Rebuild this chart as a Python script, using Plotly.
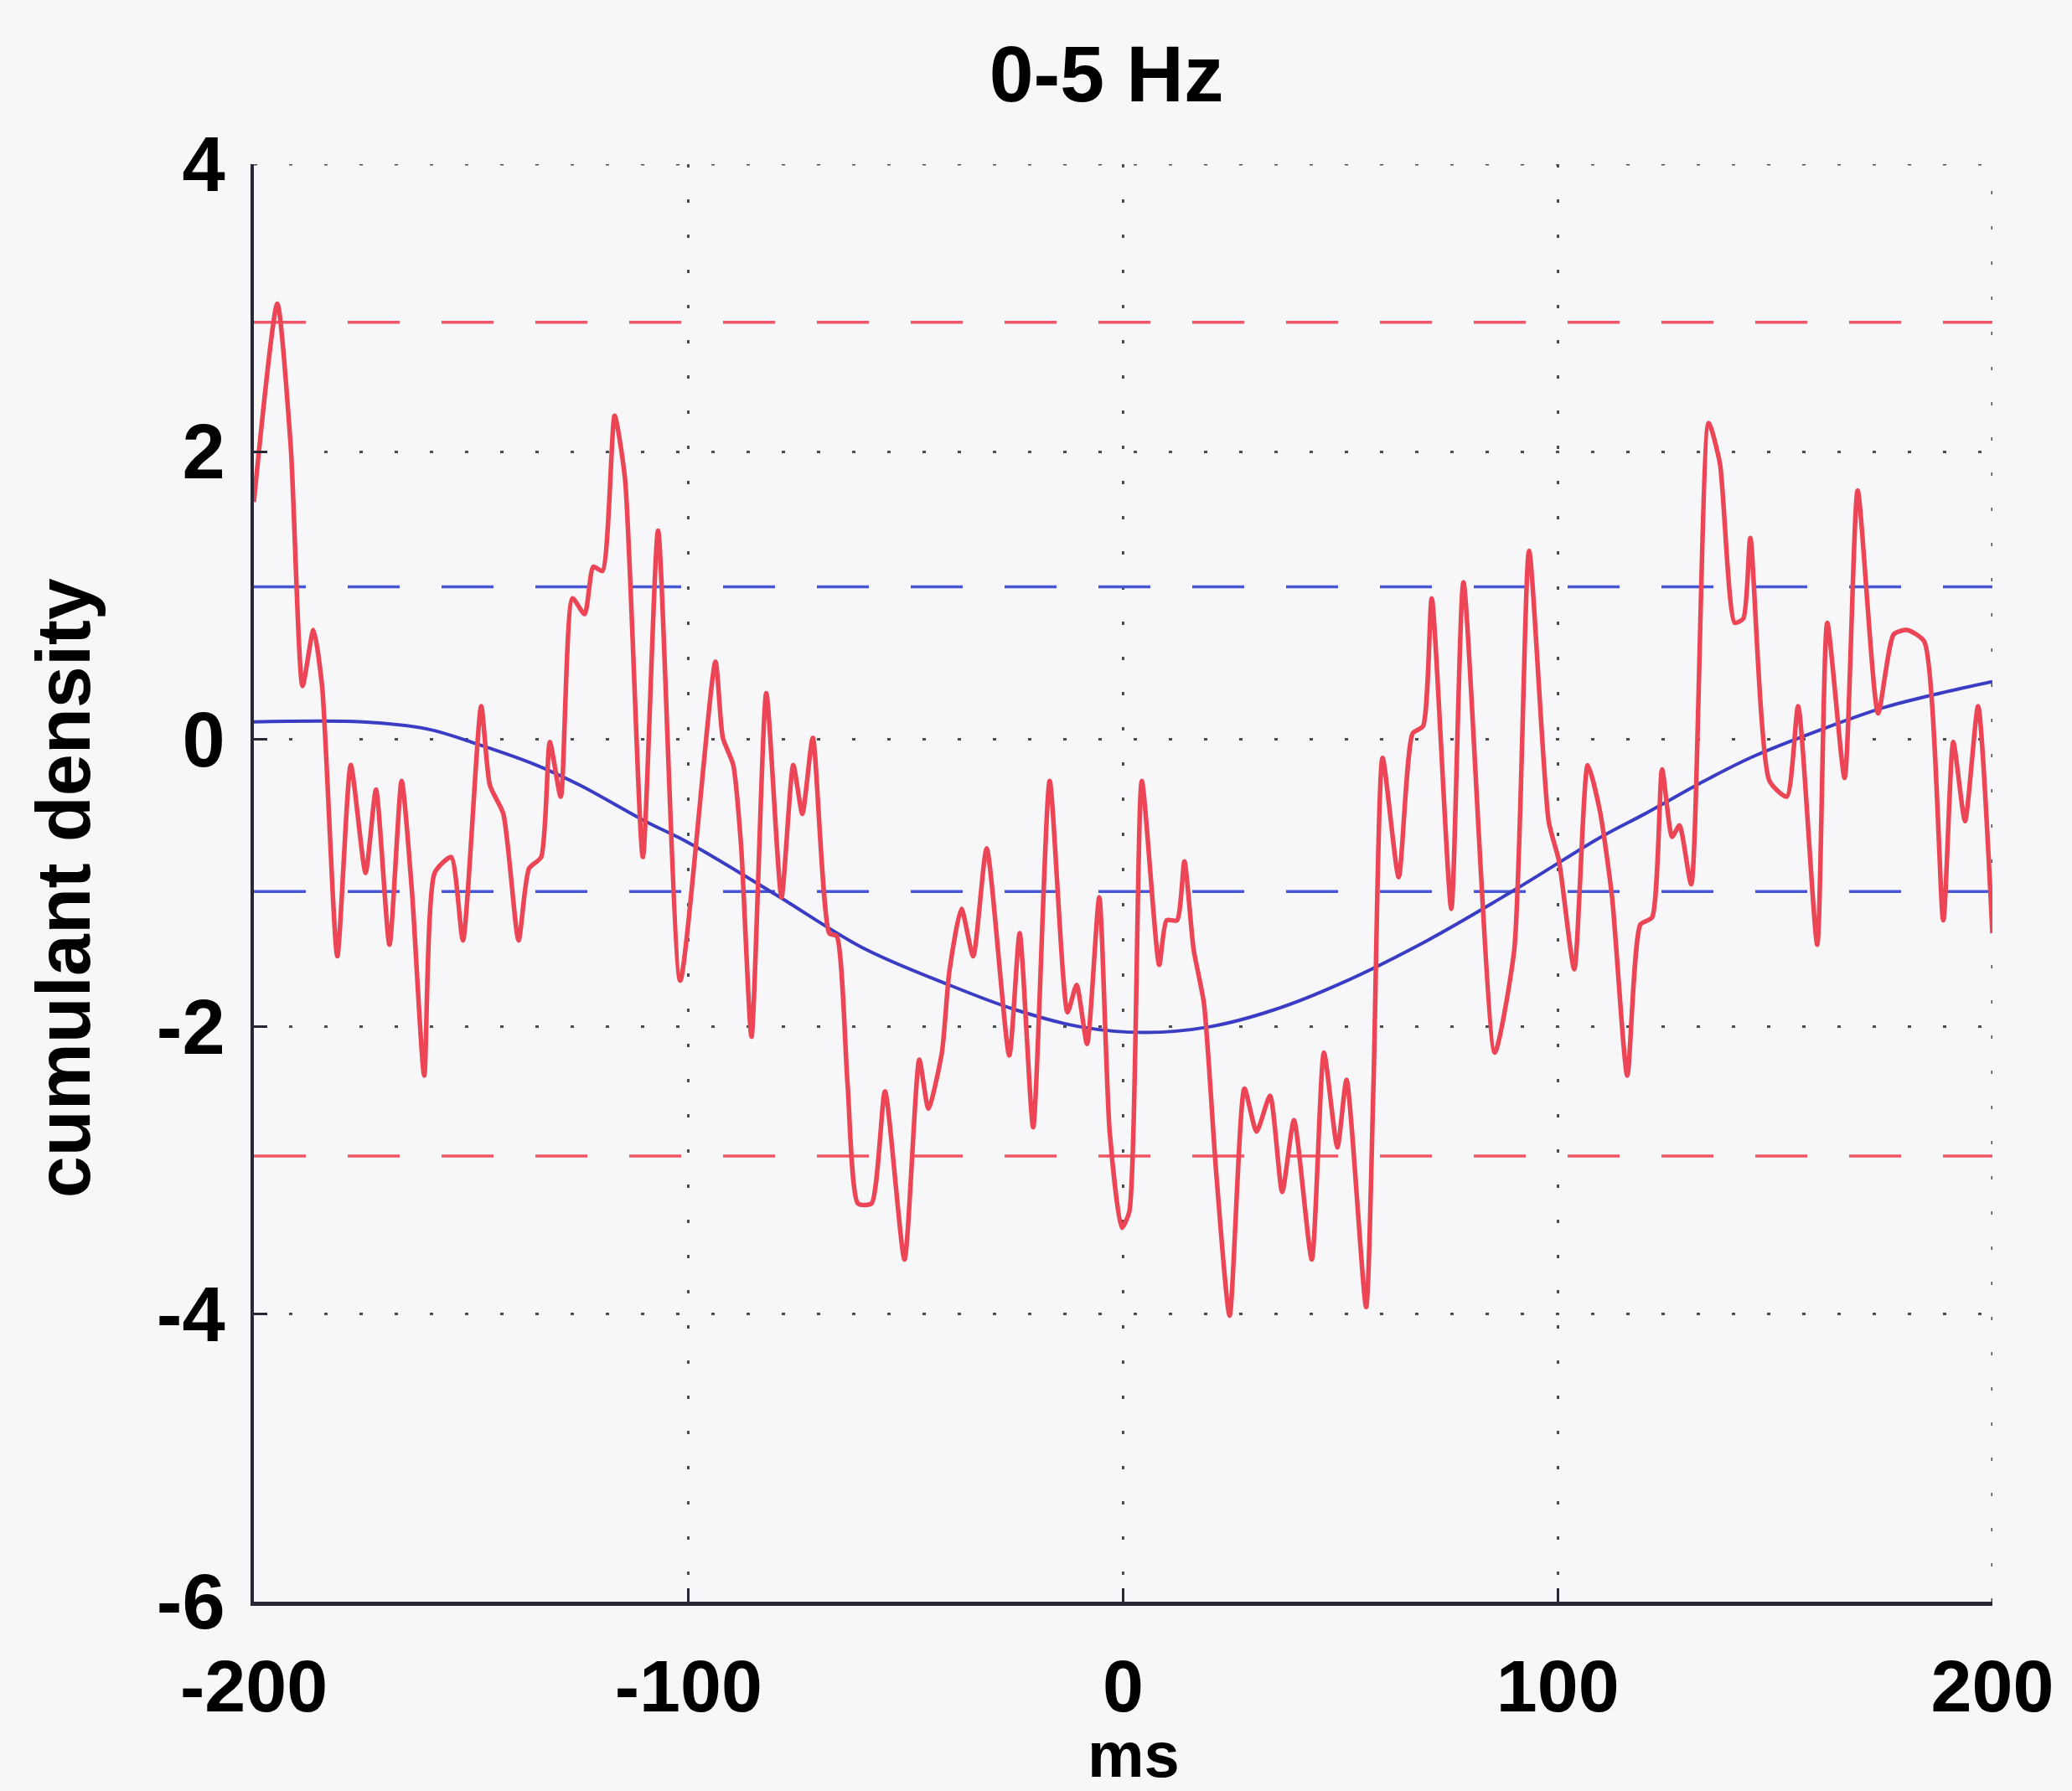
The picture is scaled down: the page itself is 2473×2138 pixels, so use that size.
import plotly.graph_objects as go

# ---- data ----
red_t = [-200, -194.6, -191.5, -188.8, -186.3, -184.3, -180.8, -177.7, -174.3, -171.9,
         -168.8, -166.0, -163.6, -160.8, -158.4, -154.6, -151.9, -147.7, -145.7, -142.6,
         -139.1, -136.7, -133.9, -131.9, -129.4, -126.7, -123.9, -121.9, -119.8, -117.0,
         -114.6, -110.5, -107.0, -101.9, -93.8, -92.1, -89.7, -87.9, -85.5, -82.1,
         -78.6, -75.9, -73.8, -71.4, -67.6, -65.9, -63.4, -61.0, -57.9, -54.8,
         -50.3, -46.9, -44.8, -41.7, -40.0, -37.2, -34.5, -31.4, -26.2, -23.8,
         -20.7, -16.9, -12.8, -10.7, -8.3, -5.5, -3.1, -0.3, 1.4, 4.3,
         8.3, 10.0, 12.4, 14.1, 16.2, 18.6, 21.4, 24.5, 27.9, 30.7,
         33.8, 36.6, 39.3, 43.4, 46.2, 49.3, 51.4, 55.9, 57.6, 59.7,
         63.4, 66.6, 69.0, 71.0, 75.5, 78.3, 85.5, 90.0, 93.4, 97.9,
         100.3, 103.8, 106.9, 109.7, 112.5, 116.0, 119.0, 121.7, 124.0, 126.3,
         128.0, 130.7, 134.7, 137.3, 140.7, 142.7, 144.3, 148.7, 152.7, 155.3,
         159.7, 162.0, 166.0, 169.0, 173.7, 177.3, 180.3, 184.3, 188.7, 191.0,
         193.7, 196.7, 200]
red_v = [1.65, 3.03, 2.03, 0.37, 0.76, 0.37, -1.51, -0.18, -0.93, -0.35,
         -1.43, -0.29, -1.07, -2.34, -0.93, -0.82, -1.40, 0.23, -0.32, -0.52,
         -1.40, -0.90, -0.82, -0.02, -0.40, 0.98, 0.87, 1.20, 1.17, 2.25,
         1.81, -0.82, 1.45, -1.68, 0.54, 0.01, -0.18, -0.74, -2.07, 0.32,
         -1.10, -0.18, -0.52, 0.01, -1.35, -1.37, -2.40, -3.23, -3.23, -2.45,
         -3.62, -2.23, -2.57, -2.18, -1.62, -1.18, -1.51, -0.76, -2.20, -1.35,
         -2.70, -0.29, -1.90, -1.71, -2.12, -1.10, -2.73, -3.40, -3.29, -0.29,
         -1.57, -1.26, -1.26, -0.85, -1.46, -1.84, -3.01, -4.01, -2.43, -2.73,
         -2.48, -3.15, -2.65, -3.62, -2.18, -2.84, -2.37, -3.95, -2.40, -0.13,
         -0.96, 0.04, 0.09, 0.98, -1.18, 1.09, -2.18, -1.46, 1.31, -0.57,
         -0.85, -1.60, -0.18, -0.50, -1.10, -2.34, -1.29, -1.24, -0.21, -0.68,
         -0.60, -1.01, 2.20, 1.92, 0.81, 0.84, 1.40, -0.29, -0.40, 0.23,
         -1.43, 0.81, -0.27, 1.73, 0.18, 0.73, 0.76, 0.68, -1.26, -0.02,
         -0.57, 0.23, -1.35]

blue_t = [-200, -175, -160, -150, -135, -125, -110, -100, -80, -60, -40, -25, -10, 5,
          20, 35, 50, 70, 90, 110, 120, 135, 145, 160, 175, 188, 200]
blue_v = [0.12, 0.12, 0.07, -0.02, -0.18, -0.32, -0.57, -0.72, -1.08, -1.45, -1.71, -1.88,
          -2.00, -2.04, -2.00, -1.88, -1.70, -1.40, -1.05, -0.68, -0.52, -0.27, -0.12,
          0.06, 0.22, 0.32, 0.40]

limit_x = [-200, 200]
red_limit = 2.9
blue_limit = 1.06

x_range = [-200, 200]
y_range = [-6, 4]
x_ticks = [-200, -100, 0, 100, 200]
x_ticktext = ["-200", "-100", "0", "100", "200"]
y_ticks = [-6, -4, -2, 0, 2, 4]
y_ticktext = ["-6", "-4", "-2", "0", "2", "4"]

title_text = "0-5 Hz"
x_label = "ms"
y_label = "cumulant density"

# ---- styling ----
RED = "#ec4656"
RED_DASH = "#ef5563"
BLUE = "#3a3cc4"
BLUE_DASH = "#4656d4"
GRID = "#4a4a52"
AXIS = "#2a2636"
FAMILY = "Liberation Sans, Arial, sans-serif"
GRID_DASH = "4px,38px"

fig = go.Figure()

for val, col in [(red_limit, RED_DASH), (-red_limit, RED_DASH), (blue_limit, BLUE_DASH), (-blue_limit, BLUE_DASH)]:
    fig.add_trace(go.Scatter(x=limit_x, y=[val, val], mode="lines",
                             line=dict(color=col, width=3.5, dash="62px,50px"),
                             hoverinfo="skip", showlegend=False))

fig.add_trace(go.Scatter(x=blue_t, y=blue_v, mode="lines",
                         line=dict(color=BLUE, width=4, shape="spline", smoothing=1.0),
                         showlegend=False))
fig.add_trace(go.Scatter(x=red_t, y=red_v, mode="lines",
                         line=dict(color=RED, width=5.5, shape="spline", smoothing=0.6),
                         showlegend=False))

# top and right grid lines (at the range edges)
fig.add_shape(type="line", xref="x", yref="y", x0=x_range[0], x1=x_range[1], y0=y_range[1], y1=y_range[1],
              line=dict(color=GRID, width=3, dash=GRID_DASH), layer="below")
fig.add_shape(type="line", xref="x", yref="y", x0=x_range[1], x1=x_range[1], y0=y_range[0], y1=y_range[1],
              line=dict(color=GRID, width=3, dash=GRID_DASH), layer="below")

fig.update_layout(
    width=2473, height=2138,
    margin=dict(l=303, r=95, t=196, b=226),
    paper_bgcolor="#f7f7f9", plot_bgcolor="#f7f7f9",
    showlegend=False,
    font=dict(family=FAMILY, size=92, color="black", weight="bold"),
    title=dict(text=title_text, x=0.534, xanchor="center", y=0.959, yanchor="middle",
               font=dict(size=95, family=FAMILY, color="black", weight="bold")),
    annotations=[
        dict(text=y_label, xref="paper", yref="paper", x=-0.1093, y=0.4965,
             xanchor="center", yanchor="middle", textangle=-90, showarrow=False,
             font=dict(size=90, family=FAMILY, color="black", weight="bold")),
        dict(text=x_label, xref="paper", yref="paper", x=0.506, y=-0.1315,
             xanchor="center", yanchor="bottom", showarrow=False, borderpad=0,
             font=dict(size=76, family=FAMILY, color="black", weight="bold")),
    ],
)

fig.update_xaxes(range=x_range, tickmode="array", tickvals=x_ticks, ticktext=x_ticktext,
                 showgrid=True, gridcolor=GRID, griddash=GRID_DASH, gridwidth=3,
                 zeroline=False, showline=True, linecolor=AXIS, linewidth=5, mirror=False,
                 ticks="inside", ticklen=16, tickwidth=3, tickcolor=AXIS,
                 tickfont=dict(size=88, family=FAMILY, color="black", weight="bold"),
                 ticklabelstandoff=20)
fig.update_yaxes(range=y_range, tickmode="array", tickvals=y_ticks, ticktext=y_ticktext,
                 showgrid=True, gridcolor=GRID, griddash=GRID_DASH, gridwidth=3,
                 zeroline=False, showline=True, linecolor=AXIS, linewidth=4, mirror=False,
                 ticks="inside", ticklen=16, tickwidth=3, tickcolor=AXIS,
                 tickfont=dict(size=92, family=FAMILY, color="black", weight="bold"),
                 ticklabelstandoff=12)

fig.write_html("out.html")
